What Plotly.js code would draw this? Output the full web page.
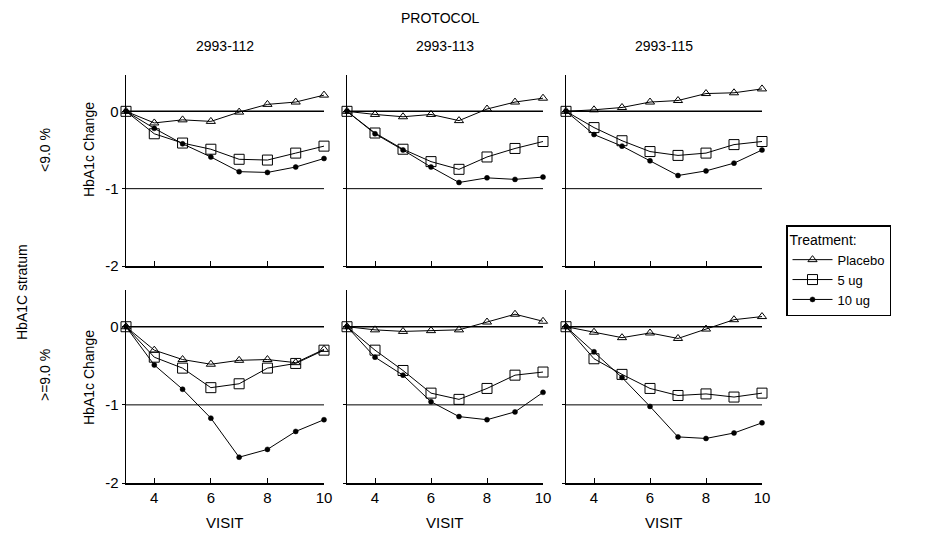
<!DOCTYPE html>
<html>
<head>
<meta charset="utf-8">
<script src="https://cdn.plot.ly/plotly-3.0.1.min.js"></script>
<style>html,body{margin:0;padding:0;background:#fff;}#chart{width:925px;height:536px;}</style>
</head>
<body>
<div id="chart"></div>
<script>
// ---- data ----
const visits = [3, 4, 5, 6, 7, 8, 9, 10];
const protocols = ['2993-112', '2993-113', '2993-115'];
const strata = ['<9.0 %', '>=9.0 %'];
const treatments = ['Placebo', '5 ug', '10 ug'];
const xTicks = [4, 6, 8, 10];
const yTicks = [0, -1, -2];

// stratum <9.0 %
const placebo_lt9_112 = [0, -0.15, -0.11, -0.13, -0.01, 0.09, 0.12, 0.21];
const ug5_lt9_112     = [0, -0.29, -0.41, -0.49, -0.62, -0.63, -0.54, -0.45];
const ug10_lt9_112    = [0, -0.22, -0.42, -0.59, -0.78, -0.79, -0.72, -0.61];
const placebo_lt9_113 = [0, -0.04, -0.07, -0.04, -0.12, 0.03, 0.12, 0.17];
const ug5_lt9_113     = [0, -0.28, -0.49, -0.65, -0.75, -0.59, -0.48, -0.39];
const ug10_lt9_113    = [0, -0.29, -0.50, -0.72, -0.92, -0.86, -0.88, -0.85];
const placebo_lt9_115 = [0, 0.02, 0.05, 0.12, 0.14, 0.23, 0.24, 0.29];
const ug5_lt9_115     = [0, -0.21, -0.38, -0.52, -0.57, -0.54, -0.43, -0.39];
const ug10_lt9_115    = [0, -0.30, -0.45, -0.64, -0.83, -0.77, -0.67, -0.50];
// stratum >=9.0 %
const placebo_ge9_112 = [0, -0.30, -0.42, -0.48, -0.43, -0.42, -0.46, -0.29];
const ug5_ge9_112     = [0, -0.39, -0.53, -0.78, -0.73, -0.53, -0.47, -0.30];
const ug10_ge9_112    = [0, -0.49, -0.80, -1.17, -1.67, -1.57, -1.34, -1.19];
const placebo_ge9_113 = [0, -0.04, -0.06, -0.05, -0.04, 0.06, 0.16, 0.07];
const ug5_ge9_113     = [0, -0.30, -0.56, -0.85, -0.93, -0.79, -0.62, -0.58];
const ug10_ge9_113    = [0, -0.39, -0.62, -0.96, -1.15, -1.19, -1.09, -0.84];
const placebo_ge9_115 = [0, -0.07, -0.14, -0.08, -0.15, -0.03, 0.09, 0.13];
const ug5_ge9_115     = [0, -0.41, -0.61, -0.79, -0.88, -0.86, -0.90, -0.85];
const ug10_ge9_115    = [0, -0.32, -0.65, -1.02, -1.41, -1.43, -1.36, -1.23];

const panels = [
  [placebo_lt9_112, ug5_lt9_112, ug10_lt9_112],
  [placebo_lt9_113, ug5_lt9_113, ug10_lt9_113],
  [placebo_lt9_115, ug5_lt9_115, ug10_lt9_115],
  [placebo_ge9_112, ug5_ge9_112, ug10_ge9_112],
  [placebo_ge9_113, ug5_ge9_113, ug10_ge9_113],
  [placebo_ge9_115, ug5_ge9_115, ug10_ge9_115]
];

// ---- styling ----
const W = 925, H = 536;
const FONT = 'Liberation Sans, Arial, sans-serif';
const markers = [
  {symbol: 'triangle-up-open', size: 8, color: '#000', line: {width: 1, color: '#000'}},
  {symbol: 'square-open', size: 10, color: '#000', line: {width: 1, color: '#000'}},
  {symbol: 'circle', size: 5, color: '#000', line: {width: 0.5, color: '#000'}}
];
const colPx = [[126, 324], [347, 543], [566, 762]];
const rowPx = [[75, 266], [290, 483]];
const px2x = p => p / W;
const px2y = p => 1 - p / H;

const traces = [];
const layout = {
  width: W, height: H,
  margin: {l: 0, r: 0, t: 0, b: 0},
  paper_bgcolor: '#fff', plot_bgcolor: '#fff',
  font: {family: FONT, size: 14, color: '#000'},
  showlegend: true,
  legend: {
    x: px2x(786), y: px2y(225), xanchor: 'left', yanchor: 'top',
    bordercolor: '#000', borderwidth: 1.5, bgcolor: '#fff',
    title: {text: 'Treatment:', font: {size: 14}},
    font: {size: 13}, tracegroupgap: 0, itemwidth: 40,
    entrywidth: 150, entrywidthmode: 'pixels'
  },
  shapes: [], annotations: []
};

function ann(text, xp, yp, opts) {
  layout.annotations.push(Object.assign({
    text: text, xref: 'paper', yref: 'paper', x: px2x(xp), y: px2y(yp),
    xanchor: 'center', yanchor: 'middle', showarrow: false, font: {size: 14}
  }, opts || {}));
}

for (let r = 0; r < 2; r++) {
  for (let c = 0; c < 3; c++) {
    const i = r * 3 + c + 1;
    const xa = 'x' + (i === 1 ? '' : i), ya = 'y' + (i === 1 ? '' : i);
    const xk = 'xaxis' + (i === 1 ? '' : i), yk = 'yaxis' + (i === 1 ? '' : i);
    layout[xk] = {
      domain: [px2x(colPx[c][0]), px2x(colPx[c][1])],
      anchor: ya, range: [3, 10],
      showline: true, linecolor: '#000', linewidth: 1.5,
      ticks: 'inside', ticklen: 5, tickcolor: '#000',
      tickvals: xTicks, ticktext: xTicks.map(String),
      showticklabels: r === 1, showgrid: false, zeroline: false,
      tickfont: {size: 15}
    };
    layout[yk] = {
      domain: [px2y(rowPx[r][1]), px2y(rowPx[r][0])],
      anchor: xa, range: [-2, 0.47],
      showline: true, linecolor: '#000', linewidth: 1.5,
      ticks: 'outside', ticklen: 3, tickcolor: '#000',
      tickvals: yTicks, ticktext: yTicks.map(String),
      showticklabels: c === 0, showgrid: false, zeroline: false,
      tickfont: {size: 15}
    };
    // reference lines at 0 and -1
    layout.shapes.push({type: 'line', xref: xa + ' domain', yref: ya, x0: 0, x1: 1, y0: 0, y1: 0,
      line: {color: '#000', width: 1.5}, layer: 'below'});
    layout.shapes.push({type: 'line', xref: xa + ' domain', yref: ya, x0: 0, x1: 1, y0: -1, y1: -1,
      line: {color: '#000', width: 1}, layer: 'below'});

    panels[i - 1].forEach((vals, t) => {
      traces.push({
        type: 'scatter', mode: 'lines+markers',
        x: visits, y: vals, xaxis: xa, yaxis: ya,
        name: treatments[t], legendgroup: treatments[t],
        showlegend: i === 1,
        cliponaxis: false,
        line: {color: '#000', width: 1},
        marker: markers[t]
      });
    });
  }
}

// column headers & super-title
ann('PROTOCOL', 440, 18);
protocols.forEach((p, c) => ann(p, (colPx[c][0] + colPx[c][1]) / 2, 46));
// x axis titles (bottom row)
protocols.forEach((p, c) => ann('VISIT', (colPx[c][0] + colPx[c][1]) / 2, 522, {font: {size: 15}}));
// y axis titles (left column)
ann('HbA1c Change', 89, 150, {textangle: -90});
ann('HbA1c Change', 89, 378, {textangle: -90});
// row labels
ann(strata[0], 45, 150, {textangle: -90});
ann(strata[1], 45, 375, {textangle: -90});
ann('HbA1C stratum', 22, 292, {textangle: -90});

Plotly.newPlot('chart', traces, layout, {staticPlot: true, displayModeBar: false});
</script>
</body>
</html>
